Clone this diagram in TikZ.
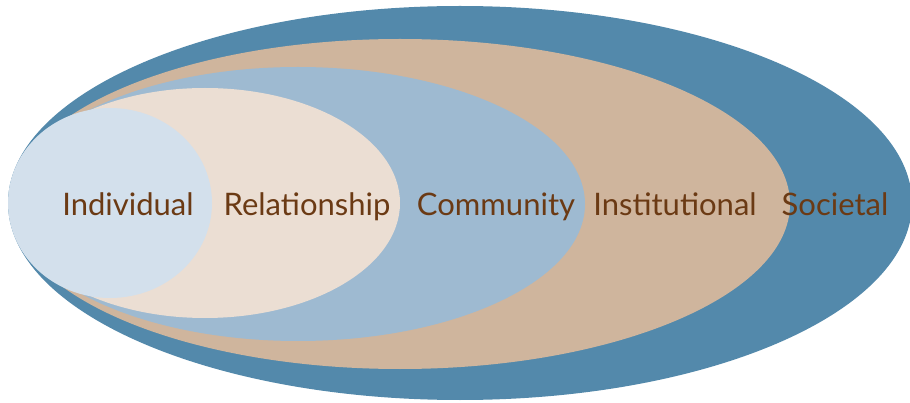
\documentclass[tikz,border=0pt]{standalone}
\usepackage{fontspec}
\setmainfont{Lato}
\definecolor{socC}{HTML}{5389AB}
\definecolor{insC}{HTML}{CFB59D}
\definecolor{comC}{HTML}{9EBAD1}
\definecolor{relC}{HTML}{EBDED3}
\definecolor{indC}{HTML}{D3E0EC}
\definecolor{txtC}{HTML}{6B3A14}
\tikzset{
  layer/.style={draw=none},
  lbl/.style={text=txtC, font=\fontsize{31}{34}\selectfont, inner sep=0pt, anchor=base}
}
\begin{document}
\begin{tikzpicture}[x=1pt,y=-1pt]
\useasboundingbox (0,0) rectangle (910,403);
\fill[layer, socC] (460,203) ellipse [x radius=452, y radius=197];
\fill[layer, insC] (400,204) ellipse [x radius=390, y radius=165];
\fill[layer, comC] (298,204) ellipse [x radius=287, y radius=137];
\fill[layer, relC] (205,203) ellipse [x radius=195, y radius=115];
\fill[layer, indC] (110,203) ellipse [x radius=102, y radius=95];
\node[lbl] (ind) at (128,216) {Individual};
\node[lbl] (rel) at (307,216) {Relationship};
\node[lbl] (com) at (496,216) {Community};
\node[lbl] (ins) at (675,216) {Institutional};
\node[lbl] (soc) at (835,216) {Societal};
\end{tikzpicture}
\end{document}
